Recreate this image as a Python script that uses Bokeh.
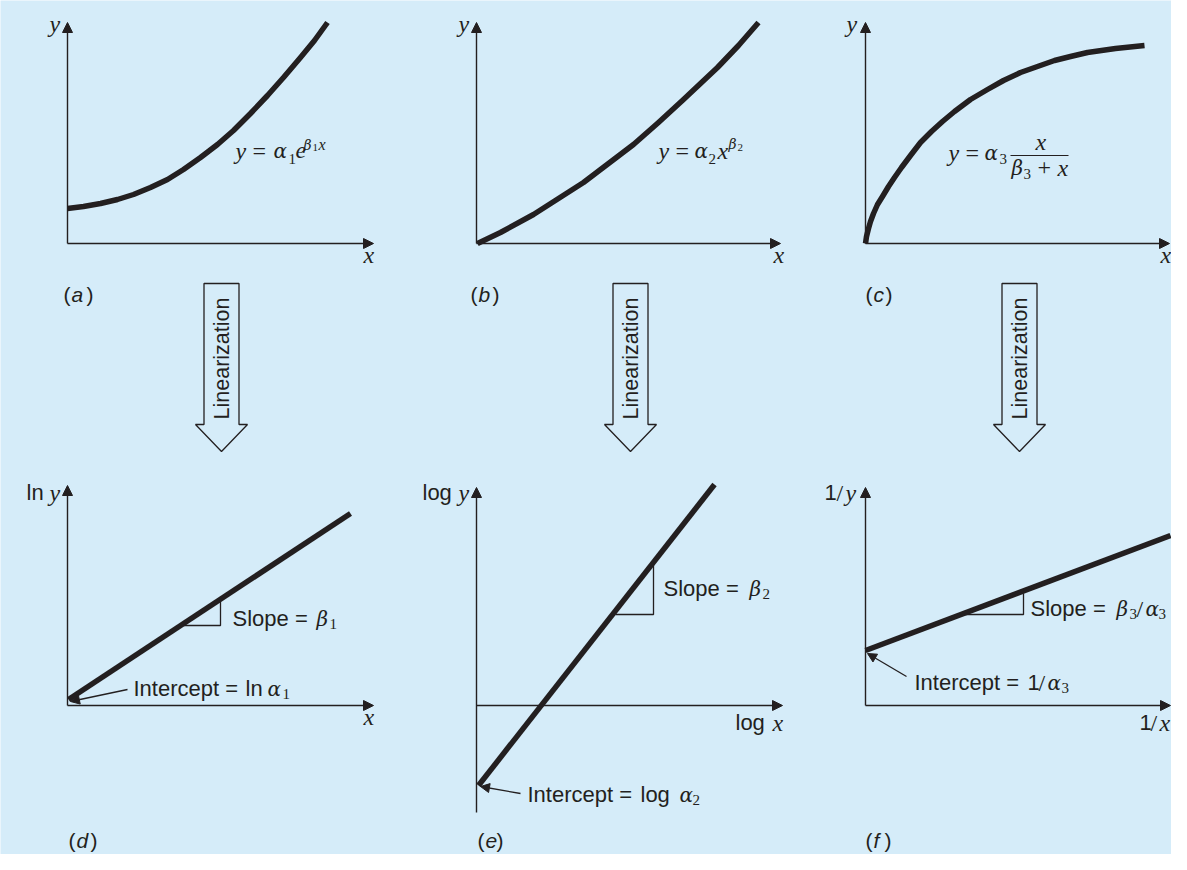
import numpy as np
from bokeh.plotting import figure
from bokeh.models import Range1d, Arrow, NormalHead, ColumnDataSource
from bokeh.core.properties import value
from bokeh.embed import file_html
from bokeh.resources import INLINE

H = 870
BG = "#d5ecf9"
INK = "#231f20"
SANS = "Liberation Sans"
SERIF = "Liberation Serif"
GREEK = "DejaVu Serif"
TEXT_SHIFT = 7  # compensates the renderer's baseline placement

# ---------------- data (pixel coords, y downward) ----------------
curve_a_x = [67, 83, 100, 117, 133, 150, 167, 183, 200, 217, 233, 250, 267, 283, 300, 314, 327]
curve_a_y = [211, 209, 206, 202, 197, 190, 182, 172, 160, 147, 133, 116, 98, 80, 60, 43, 25]

curve_b_x = [477, 500, 533, 558, 583, 608, 633, 658, 683, 700, 717, 738, 758]
curve_b_y = [246, 235, 217, 201, 185, 166, 147, 125, 102, 86, 70, 48, 25]

curve_c_x = [865, 866, 868, 870, 873, 877, 882, 888, 894, 901, 910, 920, 931, 942, 954,
             970, 987, 1003, 1020, 1037, 1054, 1070, 1087, 1115, 1144]
curve_c_y = [246, 239, 231, 224, 216, 207, 199, 189, 180, 170, 158, 145, 134, 124, 114,
             102, 92, 83, 75, 69, 63, 59, 55, 51, 48]

# straight (linearized) lines d, e, f
lin_x0 = [68, 478, 865]
lin_y0 = [702, 788, 653]
lin_x1 = [350, 714, 1170]
lin_y1 = [516, 487, 538]

# slope triangles
tri_xs = [[183, 220, 220], [615, 653, 653], [964, 1023, 1023]]
tri_ys = [[628, 628, 603], [617, 617, 568], [617, 617, 596]]

# axes
yax_x = [67, 476, 865, 67, 476, 865]
yax_bottom = [246, 246, 246, 708, 815, 708]
yax_top = [25, 25, 25, 488, 490, 490]
xax_y = [246, 246, 246, 708, 708, 708]
xax_right = [373, 780, 1169, 373, 782, 1170]

# intercept pointers
ptr_x0 = [127, 520, 906]
ptr_y0 = [692, 796, 679]
ptr_x1 = [70, 480, 867]
ptr_y1 = [704, 789, 656]

# linearization block arrows
arrow_cx = [221, 630, 1019]
arrow_top, arrow_neck, arrow_tip = 286, 427, 454
arrow_label = "Linearization"

# fraction bar in (c)
frac_x = [1010, 1068]
frac_y = [158, 158]

# ---------------- texts ----------------
sans_t = ["Slope =", "Intercept =", "ln", "Slope =", "Intercept =", "log", "Slope =", "Intercept =", "1",
          "ln", "log", "1", "log", "1"]
sans_x = [232, 133, 245, 663, 527, 640, 1030, 914, 1027, 26, 422, 824, 735, 1139]
sans_y = [628, 698, 698, 598, 804, 804, 618, 692, 692, 502, 502, 502, 732, 732]

ital_t = ["y", "e", "y", "x", "y", "x", "x",
          "y", "x", "y", "x", "y", "x", "y", "x", "y", "x", "y", "x"]
ital_x = [235, 295, 658, 717, 948, 1035, 1057,
          49, 363, 458, 773, 846, 1160, 49, 363, 458, 772, 845, 1159]
ital_y = [160, 160, 160, 160, 162, 151, 177,
          33, 264, 33, 264, 33, 264, 502, 726, 502, 732, 502, 732]

greek_t = ["α", "α", "α", "β", "β", "α", "β", "α", "β", "α", "α"]
greek_x = [273, 694, 984, 1011, 316, 267, 749, 679, 1116, 1145, 1047]
greek_y = [160, 160, 162, 177, 628, 698, 598, 804, 618, 618, 692]

op_t = ["=", "=", "=", "+", "/", "/", "/", "/"]
op_x = [252, 675, 965, 1037, 1136, 1038, 836, 1150]
op_y = [160, 160, 162, 177, 618, 692, 502, 732]

sub_t = ["1", "2", "3", "3", "1", "1", "2", "2", "3", "3", "3"]
sub_x = [288, 708, 999, 1023, 329, 282, 762, 692, 1129, 1158, 1061]
sub_y = [168, 168, 168, 183, 633, 703, 603, 809, 623, 623, 697]

sup_greek_t = ["β", "β"]
sup_greek_x = [303, 728]
sup_greek_y = [154, 153]

sup_t = ["x"]
sup_x = [318]
sup_y = [154]

supsub_t = ["1", "2"]
supsub_x = [312, 737]
supsub_y = [157, 157]

panel_letters = ["a", "b", "c", "d", "e", "f"]
panel_x = [63, 470, 865, 68, 477, 865]
panel_y = [304, 304, 304, 850, 850, 850]
panel_close_dx = [23, 22, 20, 22, 19, 19]


def fy(v):
    return [H - t for t in v]


def ty(v):
    return [H - t + TEXT_SHIFT for t in v]


p = figure(width=1171, height=854, x_range=Range1d(0, 1171), y_range=Range1d(H - 857, H - 3),
           output_backend="svg", toolbar_location=None, min_border=0,
           x_axis_location=None, y_axis_location=None,
           background_fill_color=BG, border_fill_color=BG, outline_line_color=None)
p.grid.visible = False

# block arrows
bxs, bys = [], []
for cx in arrow_cx:
    bxs.append([cx - 17.5, cx + 17.5, cx + 17.5, cx + 26, cx, cx - 26, cx - 17.5])
    bys.append(fy([arrow_top, arrow_top, arrow_neck, arrow_neck, arrow_tip, arrow_neck, arrow_neck]))
p.patches(bxs, bys, fill_color=BG, line_color=INK, line_width=1.3)
p.text(x=arrow_cx, y=fy([361] * 3), text=[arrow_label] * 3, angle=np.pi / 2,
       text_font=value(SANS), text_font_size="21.5px", text_align="center",
       text_baseline="middle", text_color=INK)

# axes with arrowheads
ysrc = ColumnDataSource(dict(x0=yax_x, y0=fy(yax_bottom), x1=yax_x, y1=fy(yax_top)))
p.add_layout(Arrow(end=NormalHead(size=10, fill_color=INK, line_color=INK, line_width=1),
                   x_start="x0", y_start="y0", x_end="x1", y_end="y1",
                   line_color=INK, line_width=1.4, source=ysrc))
xsrc = ColumnDataSource(dict(x0=yax_x, y0=fy(xax_y), x1=xax_right, y1=fy(xax_y)))
p.add_layout(Arrow(end=NormalHead(size=10, fill_color=INK, line_color=INK, line_width=1),
                   x_start="x0", y_start="y0", x_end="x1", y_end="y1",
                   line_color=INK, line_width=1.4, source=xsrc))

# curves
for cx_, cy_ in [(curve_a_x, curve_a_y), (curve_b_x, curve_b_y), (curve_c_x, curve_c_y)]:
    p.line(cx_, fy(cy_), line_width=5.5, line_color=INK, line_join="round")

# linear lines
p.segment(lin_x0, fy(lin_y0), lin_x1, fy(lin_y1), line_width=5.5, line_color=INK)

# slope triangles
p.multi_line(tri_xs, [fy(t) for t in tri_ys], line_width=1.3, line_color=INK)

# intercept pointers
psrc = ColumnDataSource(dict(x0=ptr_x0, y0=fy(ptr_y0), x1=ptr_x1, y1=fy(ptr_y1)))
p.add_layout(Arrow(end=NormalHead(size=9, fill_color=INK, line_color=INK, line_width=1),
                   x_start="x0", y_start="y0", x_end="x1", y_end="y1",
                   line_color=INK, line_width=1.3, source=psrc))

# fraction bar
p.line(frac_x, fy(frac_y), line_width=1.2, line_color=INK)

common = dict(text_baseline="alphabetic", text_align="left", text_color=INK)
p.text(sans_x, ty(sans_y), sans_t, text_font=value(SANS), text_font_size="22px", **common)
p.text(ital_x, ty(ital_y), ital_t, text_font=value(SERIF), text_font_style="italic",
       text_font_size="24px", **common)
p.text(greek_x, ty(greek_y), greek_t, text_font=value(GREEK), text_font_style="italic",
       text_font_size="20px", **common)
p.text(op_x, ty(op_y), op_t, text_font=value(SERIF), text_font_size="24px", **common)
p.text(sub_x, ty(sub_y), sub_t, text_font=value(SERIF), text_font_size="15px", **common)
p.text(sup_greek_x, ty(sup_greek_y), sup_greek_t, text_font=value(GREEK), text_font_style="italic",
       text_font_size="14px", **common)
p.text(sup_x, ty(sup_y), sup_t, text_font=value(SERIF), text_font_style="italic",
       text_font_size="16px", **common)
p.text(supsub_x, ty(supsub_y), supsub_t, text_font=value(SERIF), text_font_size="11px", **common)

# panel labels (a)-(f)
p.text(panel_x, ty(panel_y), ["("] * 6, text_font=value(SANS), text_font_size="21px", **common)
p.text([x + 8 for x in panel_x], ty(panel_y), panel_letters, text_font=value(SANS),
       text_font_style="italic", text_font_size="21px", **common)
p.text([x + d for x, d in zip(panel_x, panel_close_dx)], ty(panel_y), [")"] * 6,
       text_font=value(SANS), text_font_size="21px", **common)

open("out.html", "w").write(file_html(p, INLINE))
